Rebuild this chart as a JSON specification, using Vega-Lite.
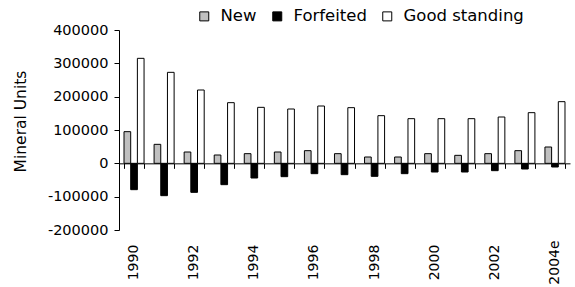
{
  "$schema": "https://vega.github.io/schema/vega-lite/v6.json",
  "autosize": {"type": "none"},
  "width": 451,
  "height": 200,
  "padding": {"left": 119, "top": 30, "right": 5, "bottom": 57},
  "background": "white",
  "config": {"view": {"stroke": null}, "font": "DejaVu Sans"},
  "data": {"values": [
    {"year": "1990", "series": "New", "value": 95000},
    {"year": "1990", "series": "Forfeited", "value": -79000},
    {"year": "1990", "series": "Good standing", "value": 315000},
    {"year": "1991", "series": "New", "value": 57000},
    {"year": "1991", "series": "Forfeited", "value": -97000},
    {"year": "1991", "series": "Good standing", "value": 273000},
    {"year": "1992", "series": "New", "value": 34000},
    {"year": "1992", "series": "Forfeited", "value": -87000},
    {"year": "1992", "series": "Good standing", "value": 220000},
    {"year": "1993", "series": "New", "value": 25000},
    {"year": "1993", "series": "Forfeited", "value": -64000},
    {"year": "1993", "series": "Good standing", "value": 182000},
    {"year": "1994", "series": "New", "value": 29000},
    {"year": "1994", "series": "Forfeited", "value": -44000},
    {"year": "1994", "series": "Good standing", "value": 168000},
    {"year": "1995", "series": "New", "value": 34000},
    {"year": "1995", "series": "Forfeited", "value": -40000},
    {"year": "1995", "series": "Good standing", "value": 163000},
    {"year": "1996", "series": "New", "value": 38000},
    {"year": "1996", "series": "Forfeited", "value": -31000},
    {"year": "1996", "series": "Good standing", "value": 172000},
    {"year": "1997", "series": "New", "value": 29000},
    {"year": "1997", "series": "Forfeited", "value": -34000},
    {"year": "1997", "series": "Good standing", "value": 167000},
    {"year": "1998", "series": "New", "value": 19000},
    {"year": "1998", "series": "Forfeited", "value": -39000},
    {"year": "1998", "series": "Good standing", "value": 143000},
    {"year": "1999", "series": "New", "value": 19000},
    {"year": "1999", "series": "Forfeited", "value": -31000},
    {"year": "1999", "series": "Good standing", "value": 134000},
    {"year": "2000", "series": "New", "value": 29000},
    {"year": "2000", "series": "Forfeited", "value": -26000},
    {"year": "2000", "series": "Good standing", "value": 134000},
    {"year": "2001", "series": "New", "value": 24000},
    {"year": "2001", "series": "Forfeited", "value": -26000},
    {"year": "2001", "series": "Good standing", "value": 134000},
    {"year": "2002", "series": "New", "value": 29000},
    {"year": "2002", "series": "Forfeited", "value": -22000},
    {"year": "2002", "series": "Good standing", "value": 139000},
    {"year": "2003", "series": "New", "value": 38000},
    {"year": "2003", "series": "Forfeited", "value": -17000},
    {"year": "2003", "series": "Good standing", "value": 152000},
    {"year": "2004e", "series": "New", "value": 49000},
    {"year": "2004e", "series": "Forfeited", "value": -11000},
    {"year": "2004e", "series": "Good standing", "value": 185000}
  ]},
  "resolve": {"axis": {"x": "independent"}},
  "layer": [
    {
      "mark": {"type": "bar", "stroke": "black", "strokeWidth": 1},
      "encoding": {
        "x": {
          "field": "year", "type": "nominal", "sort": null,
          "scale": {"paddingInner": 0.3333, "paddingOuter": 0.1667},
          "axis": {
            "title": null, "domain": false, "ticks": false, "orient": "bottom",
            "values": ["1990", "1992", "1994", "1996", "1998", "2000", "2002", "2004e"],
            "labelAngle": -90, "labelAlign": "center", "labelBaseline": "middle",
            "labelFontSize": 14, "labelColor": "black",
            "labelPadding": 32, "labelFont": "DejaVu Sans"
          }
        },
        "xOffset": {"field": "series", "type": "nominal", "sort": ["New", "Forfeited", "Good standing"]},
        "y": {
          "field": "value", "type": "quantitative",
          "scale": {"domain": [-200000, 400000], "nice": false, "zero": false},
          "axis": {
            "title": "Mineral Units", "titleFontSize": 15.5, "titleFontWeight": "normal",
            "titleColor": "black", "titleFont": "DejaVu Sans", "titlePadding": 19,
            "titleY": 91,
            "values": [-200000, -100000, 0, 100000, 200000, 300000, 400000],
            "labelExpr": "datum.value + ''", "grid": false, "labelFontSize": 14.5, "labelColor": "black",
            "labelFont": "DejaVu Sans",
            "domainColor": "black", "tickColor": "black", "tickSize": 5, "labelPadding": 6
          }
        },
        "color": {
          "field": "series", "type": "nominal", "sort": ["New", "Forfeited", "Good standing"],
          "scale": {"domain": ["New", "Forfeited", "Good standing"], "range": ["#c0c0c0", "#000000", "#ffffff"]},
          "legend": {
            "title": null, "orient": "none", "direction": "horizontal",
            "legendX": 77, "legendY": -22,
            "symbolType": "square", "symbolSize": 81, "symbolStrokeColor": "black",
            "symbolStrokeWidth": 1, "symbolOpacity": 1,
            "labelFontSize": 16.5, "labelColor": "black", "labelFont": "DejaVu Sans",
            "labelOffset": 8, "columnPadding": 12
          }
        }
      }
    },
    {
      "mark": {"type": "point", "opacity": 0},
      "encoding": {
        "x": {
          "field": "year", "type": "nominal", "sort": null,
          "axis": {
            "title": null, "labels": false, "domain": true, "ticks": true, "orient": "bottom",
            "tickBand": "extent", "tickSize": 5, "offset": -66.667,
            "domainColor": "black", "tickColor": "black"
          }
        }
      }
    }
  ]
}
